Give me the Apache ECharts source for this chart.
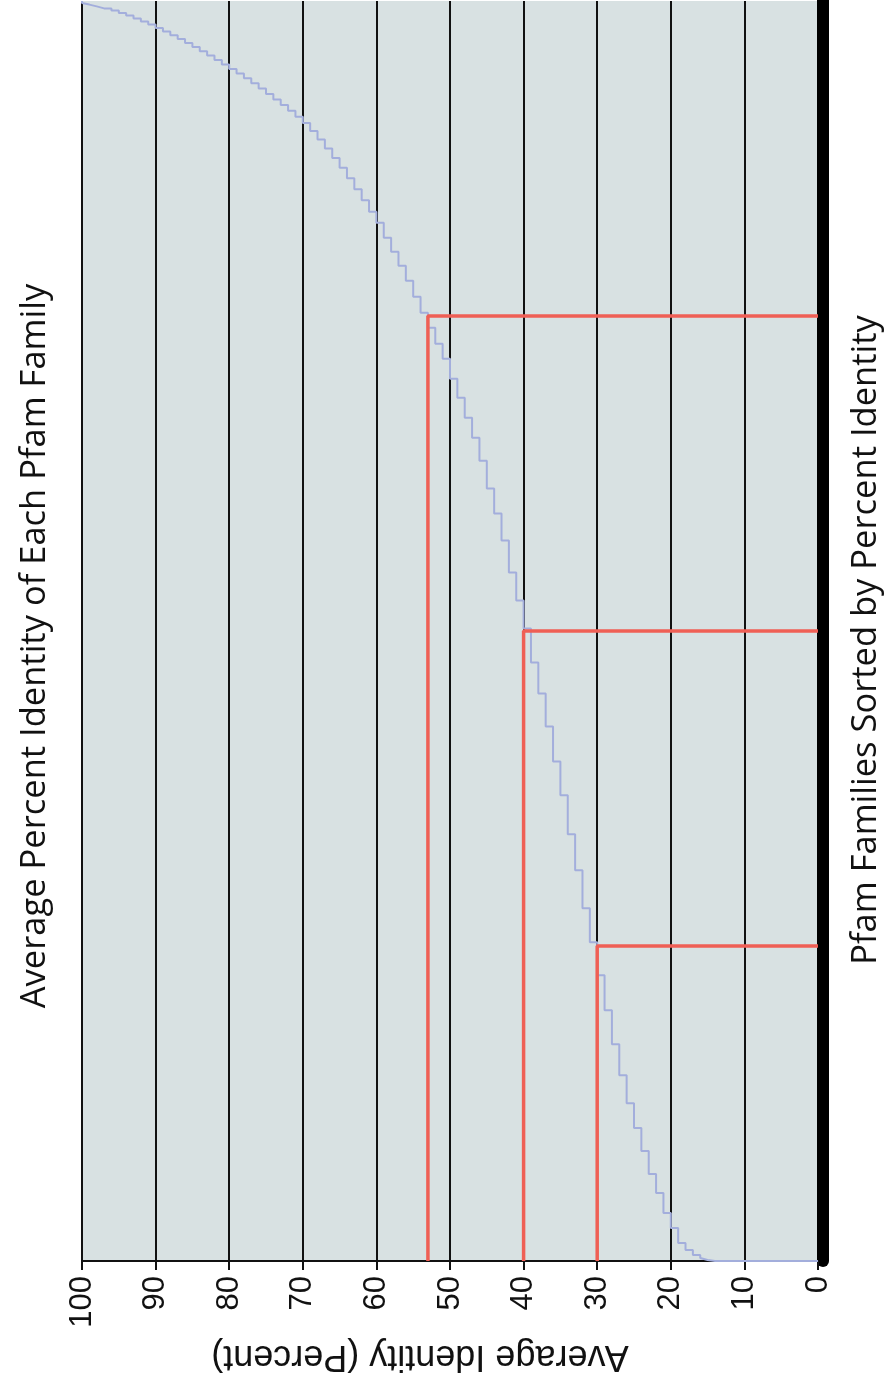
<!DOCTYPE html>
<html><head><meta charset="utf-8">
<script src="https://cdn.jsdelivr.net/npm/echarts@6/dist/echarts.min.js"></script>
<style>html,body{margin:0;padding:0;background:#fff}#c{width:890px;height:1383px}</style>
</head><body><div id="c"></div>
<script>
// Percent identity values (one step per integer percent)
const identityValues = [14,15,16,17,18,19,20,21,22,23,24,25,26,27,28,29,30,31,32,33,34,35,36,37,38,39,40,41,42,43,44,45,46,47,48,49,50,51,52,53,54,55,56,57,58,59,60,61,62,63,64,65,66,67,68,69,70,71,72,73,74,75,76,77,78,79,80,81,82,83,84,85,86,87,88,89,90,91,92,93,94,95,96,97,98,99,100];
// Number of families at each percent value (estimated)
const familyCounts = [10,20,30,50,70,150,150,200,190,230,230,250,280,310,340,350,330,340,380,360,390,340,350,330,310,340,280,280,320,270,250,280,230,200,200,190,200,150,160,150,160,160,150,140,140,150,110,115,110,110,105,100,95,90,85,80,61,60,58,56,55,54,52,50,48,46,45,45,44,43,42,41,40,38,37,35,34,32,30,28,26,24,22,20,18,16,20];
const percentTicks = [0,10,20,30,40,50,60,70,80,90,100];
const quartileFractions = [0.25, 0.5, 0.75];
const quartileIdentity = [30, 40, 53];
const titleText = 'Average Percent Identity of Each Pfam Family';
const familyAxisName = 'Pfam Families Sorted by Percent Identity';
const identityAxisName = 'Average Identity (Percent)';

const total = familyCounts.reduce((a, b) => a + b, 0);
const stepData = [[0, 0]];
let cum = 0;
identityValues.forEach((v, i) => {
  stepData.push([v, cum]);
  cum += familyCounts[i];
  stepData.push([v, cum]);
});

const redSeries = quartileFractions.map((f, i) => ({
  type: 'line',
  data: [[quartileIdentity[i], 0], [quartileIdentity[i], total * f], [0, total * f]],
  symbol: 'none',
  lineStyle: { color: '#ef5f55', width: 3.5 },
  z: 4,
  silent: true
}));

const chart = echarts.init(document.getElementById('c'));
chart.setOption({
  animation: false,
  grid: { left: 82, right: 72, top: 1, bottom: 122, show: true, backgroundColor: '#d8e1e2', borderWidth: 0 },
  xAxis: {
    type: 'value', min: percentTicks[0], max: percentTicks[percentTicks.length - 1], interval: 10,
    inverse: true, position: 'bottom',
    axisLine: { show: true, onZero: false, lineStyle: { color: '#111', width: 2 } },
    axisTick: { show: true, length: 9, lineStyle: { color: '#111', width: 2 } },
    axisLabel: { rotate: 90, fontSize: 31, fontFamily: 'Liberation Sans', color: '#111', margin: 15 },
    splitLine: { show: true, lineStyle: { color: '#111', width: 2 } }
  },
  yAxis: {
    type: 'value', min: 0, max: total, position: 'right', offset: 5,
    axisLine: { show: true, onZero: false, lineStyle: { color: '#000', width: 12 } },
    axisTick: { show: false }, axisLabel: { show: false }, splitLine: { show: false }
  },
  series: [{
    type: 'line', data: stepData, symbol: 'none',
    lineStyle: { color: '#a3aedc', width: 2 }, z: 3, silent: true
  }].concat(redSeries),
  graphic: [
    { type: 'text', x: 35, y: 646, rotation: Math.PI / 2,
      style: { text: titleText, font: '34.5px "Open Sans"', fill: '#111', align: 'center', verticalAlign: 'middle' } },
    { type: 'text', x: 866, y: 640, rotation: Math.PI / 2,
      style: { text: familyAxisName, font: '34.5px "Open Sans"', fill: '#111', align: 'center', verticalAlign: 'middle' } },
    { type: 'text', x: 420, y: 1356, rotation: Math.PI,
      style: { text: identityAxisName, font: '36px "Liberation Sans"', fill: '#111', align: 'center', verticalAlign: 'middle' } }
  ]
});
</script></body></html>
